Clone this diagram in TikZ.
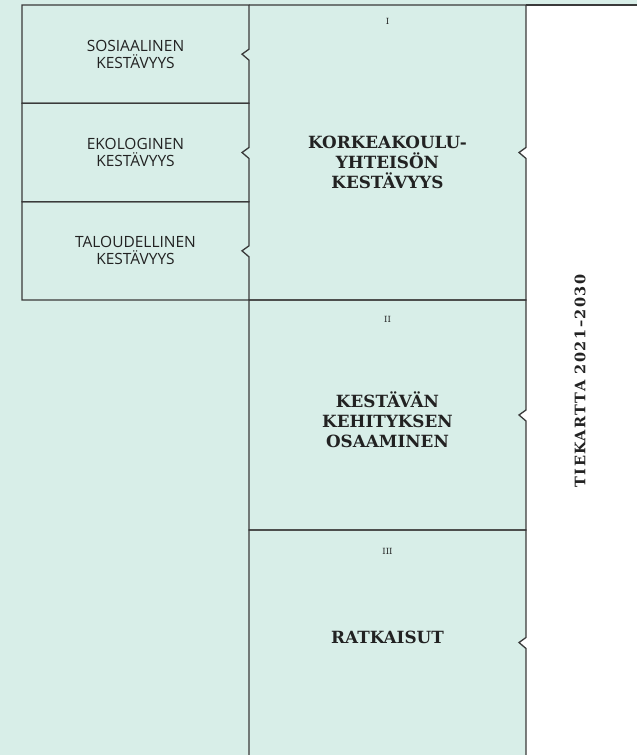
\documentclass[tikz,border=0pt]{standalone}
\usepackage{fontspec}
\setmainfont{DejaVu Serif}
\setsansfont{Open Sans}
\usetikzlibrary{positioning, calc}
\definecolor{minttu}{RGB}{216,238,232}
\definecolor{viiva}{RGB}{58,58,58}
\definecolor{teksti}{RGB}{34,34,34}

\begin{document}
\begin{tikzpicture}
	[
	x=1pt, y=-1pt,
	node distance=0pt,
        osa/.style={
            rectangle,
            inner sep=0pt,
            outer sep=0pt,
            minimum width=227pt,
            minimum height=98.33pt,
            align=center,
            text=teksti,
            font=\sffamily\fontsize{15.5}{17}\selectfont
        },
        paaosa/.style={
            rectangle,
            inner sep=0pt,
            outer sep=0pt,
            minimum width=277pt
        },
        otsikko/.style={
            align=center,
            text=teksti,
            inner sep=0pt,
            font=\bfseries\fontsize{16.8}{20}\selectfont
        },
        numero/.style={
            inner sep=0pt,
            text=teksti,
            font=\fontsize{8.5}{9}\selectfont
        },
        reuna/.style={
            draw=viiva,
            line width=1.3pt,
            line join=miter
        }
    ]
    \useasboundingbox (0,0) rectangle (637,755);
    \fill[minttu] (0,0) rectangle (637,755);
    \fill[white] (526,5) rectangle (637,755);

    \node(sosiaalinen) [osa, anchor=north west] at (22,5) {SOSIAALINEN\\KESTÄVYYS};
    \node(ekologinen) [osa, below=of sosiaalinen] {EKOLOGINEN\\KESTÄVYYS};
    \node(taloudellinen) [osa, below=of ekologinen] {TALOUDELLINEN\\KESTÄVYYS};

    \node(korkeakoulu) [paaosa, minimum height=295pt, anchor=north west] at (sosiaalinen.north east) {};
    \node(osaaminen) [paaosa, minimum height=230pt, below=of korkeakoulu] {};
    \node(ratkaisut) [paaosa, minimum height=225pt, below=of osaaminen] {};
    \coordinate(oikeaYla) at (637,5);

    % valkoiset lovet oikeassa reunassa
    \fill[white] ($(korkeakoulu.east)+(0.6,-5)$) -- ++(-7.6,5) -- ++(7.6,6) -- cycle;
    \fill[white] ($(osaaminen.east)+(0.6,-5)$) -- ++(-7.6,5) -- ++(7.6,6) -- cycle;
    \fill[white] ($(ratkaisut.east)+(0.6,-5)$) -- ++(-7.6,5) -- ++(7.6,6) -- cycle;

    \draw[reuna] (sosiaalinen.north west) -- (sosiaalinen.north east) -- ($(sosiaalinen.east)+(0,-5)$) -- ++(-7,5) -- ++(7,6) -- (sosiaalinen.south east) -- (sosiaalinen.south west) -- cycle;
    \draw[reuna] (ekologinen.north west) -- (ekologinen.north east) -- ($(ekologinen.east)+(0,-5)$) -- ++(-7,5) -- ++(7,6) -- (ekologinen.south east) -- (ekologinen.south west) -- cycle;
    \draw[reuna] (taloudellinen.north west) -- (taloudellinen.north east) -- ($(taloudellinen.east)+(0,-5)$) -- ++(-7,5) -- ++(7,6) -- (taloudellinen.south east) -- (taloudellinen.south west) -- cycle;

    \draw[reuna] (korkeakoulu.north west) -- (korkeakoulu.north east) -- ($(korkeakoulu.east)+(0,-5)$) -- ++(-7,5) -- ++(7,6) -- (korkeakoulu.south east) -- (korkeakoulu.south west);
    \draw[reuna] (osaaminen.south west) -- (osaaminen.north west) -- (osaaminen.north east) -- ($(osaaminen.east)+(0,-5)$) -- ++(-7,5) -- ++(7,6) -- (osaaminen.south east) -- cycle;
    \draw[reuna] (ratkaisut.south west) -- (ratkaisut.north west) -- (ratkaisut.north east) -- ($(ratkaisut.east)+(0,-5)$) -- ++(-7,5) -- ++(7,6) -- (ratkaisut.south east);
    \draw[reuna] (korkeakoulu.north east) -- (oikeaYla);

    \node(numeroI) [numero] at ($(korkeakoulu.north)+(0,16)$) {I};
    \node(numeroII) [numero] at ($(osaaminen.north)+(0,19)$) {II};
    \node(numeroIII) [numero] at ($(ratkaisut.north)+(0,21)$) {III};

    \node(korkeakouluTeksti) [otsikko] at ($(korkeakoulu.center)+(0,10)$) {KORKEAKOULU-\\YHTEISÖN\\KESTÄVYYS};
    \node(osaaminenTeksti) [otsikko] at ($(osaaminen.center)+(0,5)$) {KESTÄVÄN\\KEHITYKSEN\\OSAAMINEN};
    \node(ratkaisutTeksti) [otsikko] at ($(ratkaisut.center)+(0,-5)$) {RATKAISUT};

    \node(tiekartta) [otsikko, rotate=90, font=\bfseries\fontsize{14.5}{16}\selectfont\addfontfeature{LetterSpace=10}] at (580,381) {TIEKARTTA 2021–2030};
\end{tikzpicture}
\end{document}
